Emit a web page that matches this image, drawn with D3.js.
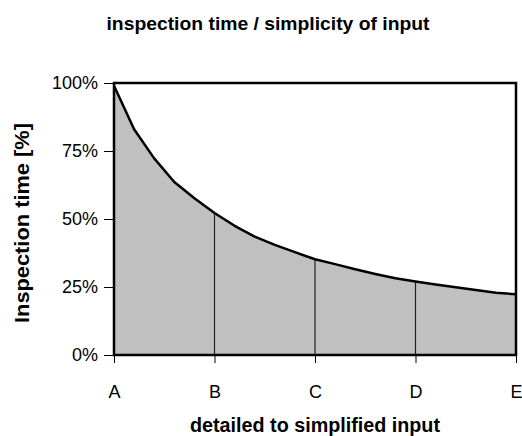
<!DOCTYPE html>
<html>
<head>
<meta charset="utf-8">
<script src="https://cdn.jsdelivr.net/npm/d3@7"></script>
<style>
  body { margin: 0; background: #fff; }
  text { font-family: "Liberation Sans", Arial, sans-serif; }
</style>
</head>
<body>
<div id="chart"></div>
<script>
// categories on the x axis
const categories = ["A", "B", "C", "D", "E"];
// curve sampled every 0.2 of a category step
const steps = [0, 0.2, 0.4, 0.6, 0.8, 1, 1.2, 1.4, 1.6, 1.8, 2, 2.2, 2.4, 2.6, 2.8, 3, 3.2, 3.4, 3.6, 3.8, 4];
const inspectionTime = [99, 83, 72.3, 63.6, 57.6, 52.2, 47.5, 43.5, 40.5, 37.8, 35.2, 33.4, 31.5, 29.8, 28.2, 27, 25.9, 24.9, 23.9, 22.9, 22.3];
const yTicks = [0, 25, 50, 75, 100];

const width = 522, height = 436;
const margin = { top: 83, right: 6, bottom: 81, left: 114 };

const svg = d3.select('#chart')
    .append('svg')
    .attr('width', width)
    .attr('height', height);

const x = d3.scaleLinear()
    .domain([0, categories.length - 1])
    .range([margin.left, width - margin.right]);
const y = d3.scaleLinear()
    .domain([0, 100])
    .range([height - margin.bottom, margin.top]);

const points = steps.map((s, i) => ({ s: s, v: inspectionTime[i] }));

// filled area under the curve
svg.append('path')
    .datum(points)
    .attr('fill', '#c0c0c0')
    .attr('d', d3.area()
        .x(d => x(d.s))
        .y0(y(0))
        .y1(d => y(d.v)));

// drop lines at the category positions
const catPoints = points.filter(d => Number.isInteger(d.s) && d.s > 0 && d.s < categories.length - 1);
svg.selectAll('.drop')
    .data(catPoints)
    .enter()
    .append('line')
    .attr('class', 'drop')
    .attr('x1', d => x(d.s)).attr('x2', d => x(d.s))
    .attr('y1', y(0)).attr('y2', d => y(d.v))
    .attr('stroke', '#222')
    .attr('stroke-width', 1.2);

// the curve
svg.append('path')
    .datum(points)
    .attr('fill', 'none')
    .attr('stroke', '#000')
    .attr('stroke-width', 2.5)
    .attr('stroke-linejoin', 'round')
    .attr('d', d3.line()
        .x(d => x(d.s))
        .y(d => y(d.v)));

// plot frame
svg.append('rect')
    .attr('x', x(0))
    .attr('y', y(100))
    .attr('width', x(categories.length - 1) - x(0))
    .attr('height', y(0) - y(100))
    .attr('fill', 'none')
    .attr('stroke', '#000')
    .attr('stroke-width', 2.5);

// y axis
const yAxis = svg.append('g')
    .attr('transform', 'translate(' + x(0) + ',0)')
    .call(d3.axisLeft(y).tickValues(yTicks).tickSize(10).tickPadding(6).tickFormat(d => d + '%'));
yAxis.select('.domain').remove();
yAxis.selectAll('text').style('font-size', '18px').attr('fill', '#000');
yAxis.selectAll('line').attr('stroke', '#000');

// x axis
const xAxis = svg.append('g')
    .attr('transform', 'translate(0,' + y(0) + ')')
    .call(d3.axisBottom(x).tickValues(d3.range(categories.length)).tickSize(8).tickPadding(22).tickFormat(i => categories[i]));
xAxis.select('.domain').remove();
xAxis.selectAll('text').style('font-size', '18px').attr('fill', '#000');
xAxis.selectAll('line').attr('stroke', '#000');

// title
svg.append('text')
    .attr('x', 268)
    .attr('y', 29.5)
    .attr('text-anchor', 'middle')
    .attr('textLength', 323)
    .attr('lengthAdjust', 'spacingAndGlyphs')
    .style('font-size', '19px')
    .style('font-weight', 'bold')
    .text('inspection time / simplicity of input');

// axis titles
svg.append('text')
    .attr('x', 315)
    .attr('y', 432)
    .attr('text-anchor', 'middle')
    .attr('textLength', 250)
    .attr('lengthAdjust', 'spacingAndGlyphs')
    .style('font-size', '19.5px')
    .style('font-weight', 'bold')
    .text('detailed to simplified input');

svg.append('text')
    .attr('transform', 'translate(29,223) rotate(-90)')
    .attr('text-anchor', 'middle')
    .attr('textLength', 200)
    .attr('lengthAdjust', 'spacingAndGlyphs')
    .style('font-size', '20px')
    .style('font-weight', 'bold')
    .text('Inspection time [%]');
</script>
</body>
</html>
